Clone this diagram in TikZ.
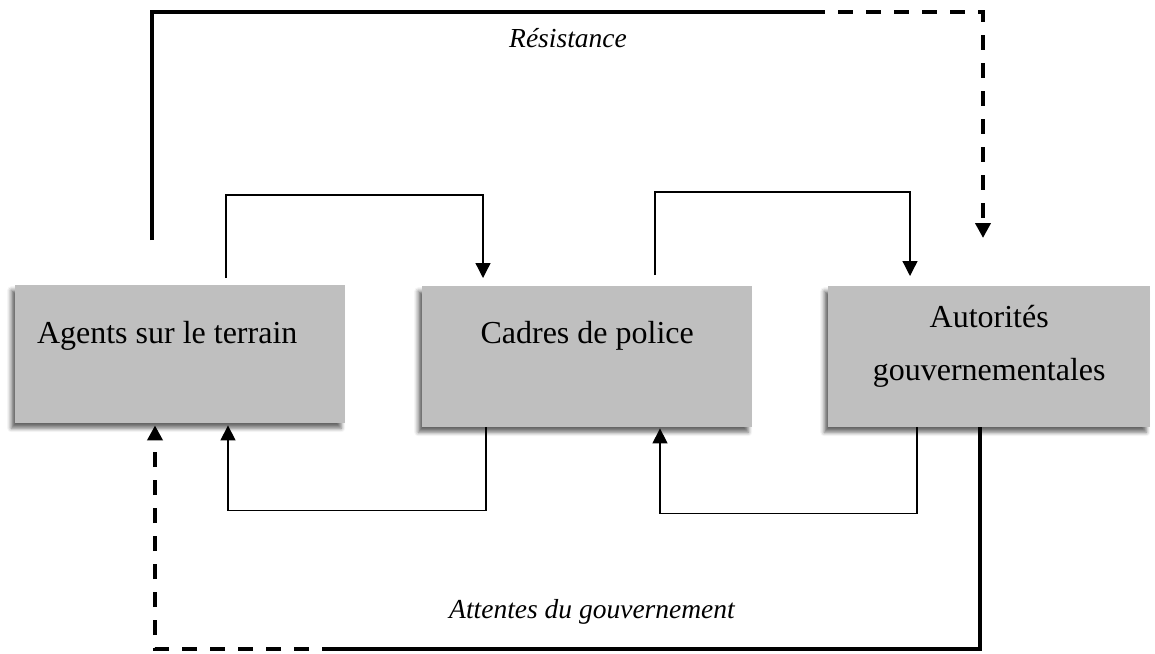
\documentclass[tikz,border=0pt]{standalone}
\usepackage{fontspec}
\setmainfont{Liberation Serif}
\usetikzlibrary{arrows.meta,shadows.blur,calc}
\definecolor{boxgray}{RGB}{191,191,191}
\begin{document}
\begin{tikzpicture}[x=1pt,y=-1pt,
  box/.style={draw=none, fill=boxgray, inner sep=0pt, anchor=north west,
    font=\fontsize{32}{53}\selectfont,
    blur shadow={shadow xshift=-4pt, shadow yshift=-5pt, shadow blur radius=4pt, shadow opacity=60}},
  thinline/.style={line width=1.3pt, draw=black},
  thickline/.style={line width=4pt, draw=black},
  dashline/.style={line width=4pt, draw=black, dash pattern=on 15pt off 13pt},
  tip/.style={-{Triangle[width=15pt,length=15pt]}},
  lbl/.style={font=\fontsize{27.5}{33}\selectfont\itshape, inner sep=0pt, anchor=base}
]
\useasboundingbox (0,0) rectangle (1155,653);

% boxes
\node[box, minimum width=330pt, text height=58pt, text depth=80pt] (a) at (15,285)
  {Agents sur le terrain\hspace*{26pt}};
\node[box, minimum width=330pt, text height=57pt, text depth=84pt] (c) at (422,286)
  {Cadres de police};
\node[box, minimum width=322pt, text height=41pt, text depth=100pt] (g) at (828,286)
  {\begin{tabular}[t]{@{}c@{}}Autorités\\gouvernementales\end{tabular}};

% labels
\node[lbl] (res) at (568,47) {Résistance};
\node[lbl] (att) at (592,618) {Attentes du gouvernement};

% resistance loop (top)
\coordinate (rs) at ($(a.north west)+(137,-45)$);
\coordinate (rm) at (810,12);
\coordinate (re) at ($(g.north west)+(155,-48)$);
\draw[thickline] (rs) |- (rm);
\draw[dashline, tip] (rm) -| (re);

% thin upper connectors
\draw[thinline, tip] ($(a.north west)+(211,-7)$) -- ++(0,-83) -| ($(c.north west)+(61,-8)$);
\draw[thinline, tip] ($(c.north west)+(233,-11)$) -- ++(0,-83) -| ($(g.north west)+(82,-10)$);

% thin lower connectors
\draw[thinline, tip] ($(c.south west)+(64,0)$) -- ++(0,83) -| ($(a.south west)+(213,2)$);
\draw[thinline, tip] ($(g.south west)+(89,0)$) -- ++(0,86) -| ($(c.south west)+(238,1)$);

% government expectations loop (bottom)
\coordinate (bm) at (322,649);
\draw[thickline] ($(g.south west)+(152,0)$) |- (bm);
\draw[dashline, dash phase=15pt, tip] (bm) -| ($(a.south west)+(140,2)$);
\end{tikzpicture}
\end{document}
